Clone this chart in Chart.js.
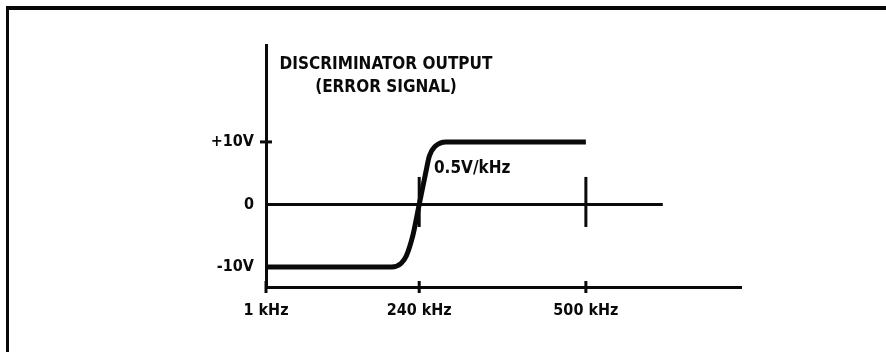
<!DOCTYPE html>
<html>
<head>
<meta charset="utf-8">
<title>Discriminator output</title>
<script src="https://cdn.jsdelivr.net/npm/chart.js@4.4.1/dist/chart.umd.min.js"></script>
<style>
  html, body { margin: 0; padding: 0; background: #fff; }
  #wrap { position: relative; width: 886px; height: 352px; overflow: hidden; }
  #frame {
    position: absolute; left: 6px; top: 6px; right: -10px; bottom: -10px;
    border-top: 4px solid #080808; border-left: 3px solid #080808;
  }
  canvas { position: absolute; left: 0; top: 0; }
</style>
</head>
<body>
<div id="wrap">
  <div id="frame"></div>
  <canvas id="c" width="886" height="352"></canvas>
</div>
<script>
// Discriminator transfer curve: output voltage against input frequency
const freqKHz = [1, 197, 212, 220, 230, 240, 250, 256, 265, 282, 500];
const outputV = [-10, -10, -9.4, -8.2, -5, 0, 5, 7.8, 9.3, 10, 10];

// zero-volt reference line
const zeroLineKHz = [1, 620];
const zeroLineV = [0, 0];

// short vertical markers crossing the zero line
const markerKHz = [240, 500];
const markerSpanV = [-3.6, 4.4];

// axis ticks
const xTickValues = [1, 240, 500];
const xTickLabels = ['1 kHz', '240 kHz', '500 kHz'];
const yTickValues = [-10, 0, 10];
const yTickLabels = ['-10V', '0', '+10V'];
const yCrossTicks = [10];

const titleLines = ['DISCRIMINATOR OUTPUT', '(ERROR SIGNAL)'];
const slopeText = '0.5V/kHz';
const slopeAnchor = { x: 263, y: 5.8 };

const INK = '#0a0a0a';
const FONT_FAMILY = '"DejaVu Sans Condensed", "DejaVu Sans", sans-serif';
const font = { family: FONT_FAMILY, size: 16, weight: 'bold' };

const pts = (xs, ys) => xs.map((x, i) => ({ x, y: ys[i] }));

const markerSets = markerKHz.map(k => ({
  data: pts([k, k], markerSpanV),
  borderColor: INK, borderWidth: 3, pointRadius: 0, tension: 0
}));

const annotations = {
  id: 'annotations',
  afterDraw(chart) {
    const { ctx, chartArea: a, scales: { x, y } } = chart;
    ctx.save();
    ctx.strokeStyle = INK;
    ctx.fillStyle = INK;
    ctx.lineWidth = 3;
    ctx.lineCap = 'butt';
    // tick marks crossing the frequency axis
    xTickValues.forEach(v => {
      const px = x.getPixelForValue(v);
      ctx.beginPath();
      ctx.moveTo(px, a.bottom - 6);
      ctx.lineTo(px, a.bottom + 6);
      ctx.stroke();
    });
    // tick marks crossing the voltage axis
    yCrossTicks.forEach(v => {
      const py = y.getPixelForValue(v);
      ctx.beginPath();
      ctx.moveTo(a.left - 6, py);
      ctx.lineTo(a.left + 6, py);
      ctx.stroke();
    });
    // title
    ctx.font = `bold 17px ${FONT_FAMILY}`;
    ctx.textAlign = 'center';
    ctx.textBaseline = 'middle';
    ctx.fillText(titleLines[0], a.left + 120, 65);
    ctx.fillText(titleLines[1], a.left + 120, 88);
    // slope label
    ctx.textAlign = 'left';
    ctx.fillText(slopeText, x.getPixelForValue(slopeAnchor.x), y.getPixelForValue(slopeAnchor.y));
    ctx.restore();
  }
};

new Chart(document.getElementById('c'), {
  type: 'line',
  data: {
    datasets: [
      {
        data: pts(freqKHz, outputV),
        borderColor: INK, borderWidth: 5, pointRadius: 0,
        cubicInterpolationMode: 'monotone', borderCapStyle: 'butt'
      },
      {
        data: pts(zeroLineKHz, zeroLineV),
        borderColor: INK, borderWidth: 3, pointRadius: 0, tension: 0
      },
      ...markerSets
    ]
  },
  options: {
    responsive: false,
    animation: false,
    layout: { padding: { left: 0, top: 45, right: 145, bottom: 0 } },
    plugins: { legend: { display: false }, tooltip: { enabled: false }, title: { display: false } },
    scales: {
      x: {
        type: 'linear', min: 1, max: 742,
        border: { display: true, width: 3, color: INK },
        grid: { display: false, drawTicks: false },
        ticks: {
          color: INK, font, padding: 14, maxRotation: 0, autoSkip: false,
          callback: (v) => xTickLabels[xTickValues.indexOf(v)] ?? ''
        },
        afterBuildTicks: s => { s.ticks = xTickValues.map(value => ({ value })); },
        afterFit: s => { s.height = 65; }
      },
      y: {
        type: 'linear', min: -13.2, max: 25.5,
        border: { display: true, width: 3, color: INK },
        grid: { display: false, drawTicks: false },
        ticks: {
          color: INK, font, padding: 12, autoSkip: false,
          callback: (v) => yTickLabels[yTickValues.indexOf(v)] ?? ''
        },
        afterBuildTicks: s => { s.ticks = yTickValues.map(value => ({ value })); },
        afterFit: s => { s.width = 266; }
      }
    }
  },
  plugins: [annotations]
});
</script>
</body>
</html>
